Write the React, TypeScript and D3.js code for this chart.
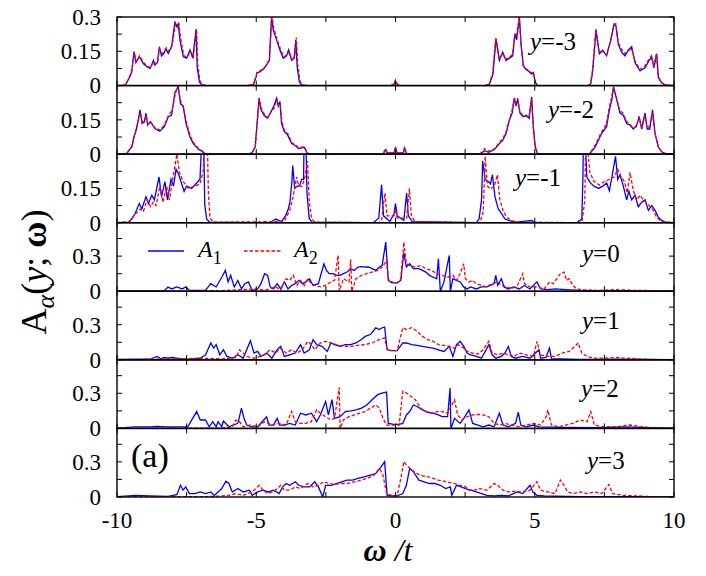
import React from "react";
import * as d3 from "d3";

type Pt = [number, number];

// spectral function A_alpha(y; omega): [omega/t, A]
const yRows = [-3, -2, -1, 0, 1, 2, 3];
const omegaTicks = [-10, -7.5, -5, -2.5, 0, 2.5, 5, 7.5, 10];
const omegaLabels = [-10, -5, 0, 5, 10];
const topTicks = [0, 0.075, 0.15, 0.225, 0.3];
const topTickLabels = [0, 0.15, 0.3];
const lowTicks = [0, 0.15, 0.3, 0.45];
const lowTickLabels = [0, 0.3];
const topMax = 0.3;
const lowMax = 0.585;

const a1Ym3: Pt[] = [
  [-10, 0], [-9.7, 0.002], [-9.62, 0.02], [-9.55, 0.035], [-9.47, 0.06], [-9.39, 0.149], [-9.32, 0.1], [-9.2, 0.126],
  [-9.05, 0.095], [-8.9, 0.08], [-8.81, 0.075], [-8.69, 0.11], [-8.64, 0.09], [-8.55, 0.1], [-8.48, 0.17], [-8.4, 0.13],
  [-8.32, 0.14], [-8.24, 0.16], [-8.16, 0.14], [-8.04, 0.17], [-7.92, 0.28], [-7.86, 0.26], [-7.8, 0.27], [-7.74, 0.2],
  [-7.62, 0.126], [-7.5, 0.12], [-7.38, 0.156], [-7.28, 0.12], [-7.16, 0.247], [-7.12, 0.08], [-7.04, 0.016], [-6.96, 0.003],
  [-6.8, 0], [-5.3, 0], [-5.1, 0.005], [-5.0, 0.04], [-4.98, 0.056], [-4.87, 0.06], [-4.72, 0.075], [-4.63, 0.09],
  [-4.53, 0.11], [-4.45, 0.3], [-4.39, 0.244], [-4.27, 0.2], [-4.15, 0.156], [-4.03, 0.12], [-3.91, 0.13], [-3.84, 0.156],
  [-3.73, 0.11], [-3.64, 0.12], [-3.58, 0.2], [-3.53, 0.08], [-3.45, 0.016], [-3.37, 0.002], [-3.2, 0],
  [-0.15, 0], [-0.05, 0.008], [0, 0.02], [0.05, 0.008], [0.15, 0],
  [3.2, 0], [3.37, 0.005], [3.5, 0.05], [3.61, 0.206], [3.73, 0.11], [3.85, 0.146], [3.97, 0.11], [4.09, 0.12],
  [4.21, 0.13], [4.29, 0.227], [4.35, 0.2], [4.45, 0.3], [4.51, 0.18], [4.59, 0.087], [4.68, 0.07], [4.77, 0.064],
  [4.89, 0.05], [4.95, 0.057], [5.02, 0.015], [5.1, 0], [6.9, 0], [7.0, 0.005], [7.08, 0.06], [7.2, 0.246],
  [7.32, 0.139], [7.44, 0.154], [7.58, 0.13], [7.73, 0.2], [7.85, 0.27], [7.92, 0.26], [8.0, 0.18], [8.12, 0.146],
  [8.24, 0.13], [8.36, 0.156], [8.48, 0.17], [8.6, 0.1], [8.7, 0.08], [8.78, 0.064], [8.96, 0.078], [9.11, 0.11],
  [9.2, 0.124], [9.28, 0.078], [9.38, 0.139], [9.44, 0.034], [9.56, 0.012], [9.68, 0.002], [10, 0],
];
const a2Ym3: Pt[] = [
  [-10, 0], [-9.7, 0.003], [-9.62, 0.022], [-9.55, 0.04], [-9.47, 0.065], [-9.38, 0.145], [-9.31, 0.105], [-9.19, 0.13],
  [-9.04, 0.1], [-8.9, 0.085], [-8.8, 0.078], [-8.68, 0.105], [-8.62, 0.095], [-8.54, 0.105], [-8.47, 0.16], [-8.39, 0.14],
  [-8.31, 0.15], [-8.23, 0.165], [-8.14, 0.15], [-8.02, 0.175], [-7.9, 0.27], [-7.84, 0.255], [-7.78, 0.275], [-7.72, 0.21],
  [-7.6, 0.13], [-7.48, 0.125], [-7.36, 0.15], [-7.26, 0.125], [-7.14, 0.24], [-7.1, 0.09], [-7.02, 0.02], [-6.94, 0.004],
  [-6.8, 0], [-5.3, 0], [-5.1, 0.006], [-5.0, 0.045], [-4.96, 0.06], [-4.85, 0.065], [-4.7, 0.08], [-4.61, 0.095],
  [-4.52, 0.12], [-4.44, 0.31], [-4.37, 0.25], [-4.25, 0.2], [-4.13, 0.16], [-4.01, 0.125], [-3.9, 0.135], [-3.82, 0.15],
  [-3.72, 0.115], [-3.62, 0.125], [-3.56, 0.21], [-3.51, 0.09], [-3.43, 0.02], [-3.35, 0.003], [-3.2, 0],
  [-0.15, 0], [-0.05, 0.01], [0, 0.025], [0.05, 0.01], [0.15, 0],
  [3.2, 0], [3.36, 0.006], [3.49, 0.055], [3.6, 0.21], [3.72, 0.115], [3.84, 0.14], [3.96, 0.115], [4.08, 0.125],
  [4.2, 0.135], [4.28, 0.22], [4.34, 0.21], [4.44, 0.3], [4.5, 0.19], [4.58, 0.09], [4.67, 0.075], [4.76, 0.068],
  [4.88, 0.055], [4.94, 0.06], [5.01, 0.018], [5.1, 0], [6.9, 0], [7.0, 0.006], [7.07, 0.065], [7.19, 0.24],
  [7.31, 0.145], [7.43, 0.15], [7.57, 0.135], [7.72, 0.19], [7.84, 0.265], [7.91, 0.27], [7.99, 0.19], [8.11, 0.16],
  [8.23, 0.14], [8.35, 0.15], [8.47, 0.165], [8.59, 0.11], [8.69, 0.09], [8.77, 0.07], [8.95, 0.085], [9.1, 0.115],
  [9.19, 0.13], [9.27, 0.085], [9.37, 0.14], [9.43, 0.04], [9.55, 0.014], [9.67, 0.003], [10, 0],
];

const a1Ym2: Pt[] = [
  [-10, 0], [-9.65, 0.002], [-9.55, 0.02], [-9.47, 0.03], [-9.39, 0.075], [-9.3, 0.11], [-9.17, 0.194], [-9.1, 0.134],
  [-9.02, 0.14], [-8.96, 0.179], [-8.9, 0.127], [-8.8, 0.142], [-8.64, 0.112], [-8.46, 0.1], [-8.3, 0.12], [-8.16, 0.164],
  [-8.04, 0.17], [-7.92, 0.27], [-7.8, 0.294], [-7.72, 0.22], [-7.62, 0.21], [-7.52, 0.134], [-7.38, 0.075], [-7.26, 0.046],
  [-7.07, 0.02], [-6.95, 0.013], [-6.84, 0.002], [-6.6, 0], [-5.3, 0], [-5.16, 0.005], [-5.04, 0.03], [-4.98, 0.12],
  [-4.9, 0.245], [-4.83, 0.194], [-4.72, 0.17], [-4.6, 0.157], [-4.49, 0.18], [-4.37, 0.21], [-4.27, 0.245], [-4.21, 0.21],
  [-4.15, 0.23], [-4.09, 0.134], [-4.0, 0.1], [-3.87, 0.083], [-3.73, 0.046], [-3.6, 0.038], [-3.48, 0.024], [-3.28, 0.03],
  [-3.16, 0.002], [-3.0, 0], [-0.45, 0], [-0.35, 0.02], [-0.3, 0.005], [-0.05, 0.005], [0, 0.03], [0.05, 0.005],
  [0.28, 0.005], [0.33, 0.025], [0.4, 0], [3.0, 0], [3.09, 0.005], [3.2, 0.015], [3.35, 0.008], [3.55, 0.02],
  [3.73, 0.046], [3.85, 0.06], [3.97, 0.09], [4.09, 0.15], [4.19, 0.18], [4.27, 0.245], [4.33, 0.21], [4.39, 0.24],
  [4.47, 0.18], [4.58, 0.164], [4.7, 0.17], [4.8, 0.157], [4.89, 0.25], [4.95, 0.12], [5.02, 0.03], [5.1, 0.002],
  [5.3, 0], [6.9, 0], [6.98, 0.003], [7.16, 0.03], [7.28, 0.06], [7.4, 0.09], [7.58, 0.12], [7.68, 0.194],
  [7.77, 0.24], [7.83, 0.294], [7.94, 0.24], [8.06, 0.18], [8.18, 0.17], [8.3, 0.134], [8.42, 0.127], [8.54, 0.11],
  [8.66, 0.127], [8.75, 0.164], [8.84, 0.11], [8.96, 0.18], [9.04, 0.11], [9.13, 0.11], [9.23, 0.194], [9.32, 0.09],
  [9.44, 0.03], [9.56, 0.01], [9.68, 0.002], [10, 0],
];
const a2Ym2: Pt[] = [
  [-10, 0], [-9.65, 0.003], [-9.55, 0.022], [-9.46, 0.035], [-9.38, 0.08], [-9.29, 0.12], [-9.16, 0.18], [-9.09, 0.14],
  [-9.01, 0.145], [-8.95, 0.17], [-8.89, 0.13], [-8.79, 0.14], [-8.63, 0.115], [-8.45, 0.105], [-8.29, 0.13], [-8.15, 0.17],
  [-8.03, 0.19], [-7.91, 0.26], [-7.82, 0.3], [-7.71, 0.23], [-7.61, 0.2], [-7.51, 0.14], [-7.37, 0.08], [-7.25, 0.05],
  [-7.06, 0.022], [-6.94, 0.015], [-6.83, 0.003], [-6.6, 0], [-5.3, 0], [-5.15, 0.006], [-5.03, 0.035], [-4.97, 0.13],
  [-4.89, 0.24], [-4.82, 0.2], [-4.71, 0.175], [-4.59, 0.16], [-4.48, 0.185], [-4.36, 0.2], [-4.26, 0.24], [-4.2, 0.215],
  [-4.14, 0.22], [-4.08, 0.14], [-3.99, 0.105], [-3.86, 0.088], [-3.72, 0.05], [-3.59, 0.04], [-3.47, 0.028], [-3.27, 0.032],
  [-3.15, 0.003], [-3.0, 0], [-0.45, 0], [-0.36, 0.025], [-0.3, 0.005], [-0.05, 0.005], [0, 0.032], [0.05, 0.005],
  [0.27, 0.005], [0.32, 0.028], [0.4, 0], [3.0, 0], [3.1, 0.008], [3.2, 0.025], [3.3, 0.012], [3.54, 0.022],
  [3.72, 0.05], [3.84, 0.065], [3.96, 0.095], [4.08, 0.145], [4.18, 0.19], [4.26, 0.24], [4.32, 0.22], [4.38, 0.245],
  [4.46, 0.19], [4.57, 0.17], [4.69, 0.165], [4.79, 0.16], [4.88, 0.24], [4.94, 0.125], [5.01, 0.035], [5.1, 0.003],
  [5.3, 0], [6.9, 0], [6.98, 0.004], [7.15, 0.035], [7.27, 0.065], [7.39, 0.095], [7.57, 0.13], [7.67, 0.2],
  [7.76, 0.25], [7.82, 0.29], [7.93, 0.25], [8.05, 0.19], [8.17, 0.18], [8.29, 0.145], [8.41, 0.13], [8.53, 0.115],
  [8.65, 0.12], [8.74, 0.16], [8.83, 0.115], [8.95, 0.17], [9.03, 0.115], [9.12, 0.12], [9.22, 0.185], [9.31, 0.095],
  [9.43, 0.035], [9.55, 0.012], [9.67, 0.003], [10, 0],
];

const a1Ym1: Pt[] = [
  [-10, 0], [-9.59, 0.002], [-9.47, 0.016], [-9.35, 0.04], [-9.2, 0.084], [-9.11, 0.06], [-8.96, 0.114], [-8.87, 0.084],
  [-8.75, 0.12], [-8.66, 0.1], [-8.49, 0.2], [-8.4, 0.114], [-8.28, 0.18], [-8.19, 0.1], [-8.06, 0.19], [-7.97, 0.16],
  [-7.88, 0.234], [-7.78, 0.21], [-7.67, 0.167], [-7.59, 0.137], [-7.5, 0.16], [-7.32, 0.15], [-7.14, 0.174], [-7.02, 0.19],
  [-6.98, 0.3], [-6.95, 0.6], [-6.9, 0.45], [-6.85, 0.08], [-6.78, 0.015], [-6.66, 0.002], [-4.5, 0], [-4.3, 0.016],
  [-4.1, 0.005], [-3.95, 0.03], [-3.85, 0.06], [-3.79, 0.09], [-3.72, 0.18], [-3.69, 0.25], [-3.62, 0.15], [-3.53, 0.16],
  [-3.45, 0.16], [-3.37, 0.19], [-3.3, 0.19], [-3.26, 0.6], [-3.22, 0.4], [-3.18, 0.13], [-3.1, 0.02], [-3.0, 0.003],
  [-0.8, 0], [-0.6, 0.02], [-0.5, 0.166], [-0.43, 0.03], [-0.2, 0.005], [-0.05, 0.04], [0, 0.084], [0.06, 0.03],
  [0.3, 0.01], [0.4, 0.13], [0.46, 0.03], [0.6, 0.005], [2.9, 0], [3.0, 0.016], [3.09, 0.1], [3.13, 0.27],
  [3.22, 0.19], [3.33, 0.18], [3.41, 0.17], [3.48, 0.21], [3.57, 0.114], [3.69, 0.06], [3.81, 0.04], [3.93, 0.016],
  [4.11, 0.008], [4.35, 0.002], [4.9, 0.01], [5.0, 0], [6.5, 0], [6.69, 0.016], [6.73, 0.2], [6.77, 0.6],
  [6.82, 0.35], [6.87, 0.2], [7.0, 0.174], [7.13, 0.16], [7.29, 0.15], [7.44, 0.16], [7.58, 0.174], [7.68, 0.14],
  [7.77, 0.2], [7.9, 0.29], [7.98, 0.19], [8.06, 0.21], [8.18, 0.16], [8.3, 0.1], [8.38, 0.137], [8.48, 0.1],
  [8.6, 0.12], [8.72, 0.07], [8.84, 0.09], [8.96, 0.1], [9.08, 0.054], [9.2, 0.075], [9.32, 0.054], [9.44, 0.024],
  [9.56, 0.01], [9.7, 0.002], [10, 0],
];
const a2Ym1: Pt[] = [
  [-10, 0], [-9.55, 0.005], [-9.4, 0.03], [-9.17, 0.06], [-9.05, 0.05], [-8.92, 0.1], [-8.8, 0.07], [-8.7, 0.09],
  [-8.6, 0.075], [-8.46, 0.16], [-8.35, 0.09], [-8.22, 0.16], [-8.12, 0.1], [-8.0, 0.19], [-7.85, 0.3], [-7.76, 0.22],
  [-7.62, 0.18], [-7.44, 0.15], [-7.2, 0.16], [-7.02, 0.17], [-6.9, 0.23], [-6.83, 0.6], [-6.77, 0.45], [-6.72, 0.13],
  [-6.66, 0.02], [-6.55, 0.002], [-4.0, 0.005], [-3.8, 0.054], [-3.68, 0.11], [-3.55, 0.2], [-3.48, 0.16], [-3.35, 0.16],
  [-3.25, 0.2], [-3.16, 0.27], [-3.1, 0.1], [-3.02, 0.02], [-2.9, 0.002], [-0.6, 0], [-0.5, 0.01], [-0.38, 0.13],
  [-0.3, 0.03], [-0.05, 0.03], [0, 0.06], [0.06, 0.02], [0.4, 0.02], [0.5, 0.15], [0.57, 0.03], [0.7, 0.005],
  [3.0, 0], [3.05, 0.005], [3.15, 0.05], [3.22, 0.29], [3.3, 0.16], [3.42, 0.147], [3.55, 0.16], [3.66, 0.21],
  [3.75, 0.1], [3.86, 0.054], [3.98, 0.025], [4.15, 0.01], [4.35, 0.003], [6.6, 0], [6.7, 0.005], [6.8, 0.1],
  [6.85, 0.6], [6.92, 0.3], [6.98, 0.22], [7.13, 0.18], [7.32, 0.165], [7.5, 0.18], [7.68, 0.19], [7.85, 0.2],
  [7.98, 0.234], [8.1, 0.2], [8.22, 0.18], [8.32, 0.13], [8.42, 0.22], [8.54, 0.14], [8.66, 0.1], [8.78, 0.12],
  [8.9, 0.1], [9.02, 0.084], [9.14, 0.07], [9.26, 0.054], [9.38, 0.024], [9.5, 0.01], [9.62, 0.002], [10, 0],
];

const a1Y0: Pt[] = [
  [-10, 0.003], [-8.3, 0.005], [-8.17, 0.037], [-8.04, 0.02], [-7.85, 0.037], [-7.66, 0.02], [-7.53, 0.037], [-7.4, 0.008],
  [-6.82, 0.01], [-6.63, 0.065], [-6.44, 0.037], [-6.24, 0.12], [-6.11, 0.178], [-6.01, 0.08], [-5.92, 0.136], [-5.79, 0.037],
  [-5.66, 0.093], [-5.53, 0.02], [-5.41, 0.065], [-5.28, 0.08], [-5.15, 0.008], [-4.95, 0.02], [-4.83, 0.065], [-4.7, 0.15],
  [-4.59, 0.136], [-4.5, 0.037], [-4.38, 0.02], [-4.25, 0.065], [-4.12, 0.02], [-3.99, 0.08], [-3.86, 0.02], [-3.73, 0.05],
  [-3.6, 0.065], [-3.47, 0.093], [-3.35, 0.065], [-3.22, 0.08], [-3.09, 0.107], [-2.96, 0.05], [-2.77, 0.065], [-2.57, 0.235],
  [-2.48, 0.178], [-2.38, 0.15], [-2.25, 0.15], [-2.12, 0.136], [-1.99, 0.136], [-1.87, 0.15], [-1.74, 0.164], [-1.61, 0.193],
  [-1.48, 0.178], [-1.35, 0.207], [-1.22, 0.21], [-1.09, 0.207], [-0.97, 0.207], [-0.84, 0.193], [-0.71, 0.178], [-0.58, 0.207],
  [-0.48, 0.22], [-0.35, 0.42], [-0.26, 0.093], [-0.13, 0.071], [0.06, 0.071], [0.19, 0.093], [0.3, 0.33], [0.39, 0.207],
  [0.51, 0.235], [0.64, 0.193], [0.84, 0.193], [0.97, 0.178], [1.09, 0.164], [1.22, 0.136], [1.35, 0.12], [1.48, 0.107],
  [1.54, 0.277], [1.61, 0.0], [1.74, 0.08], [1.93, 0.306], [1.97, 0.0], [2.06, 0.107], [2.19, 0.093], [2.32, 0.08],
  [2.45, 0.037], [2.57, 0.02], [2.7, 0.037], [2.9, 0.02], [3.09, 0.037], [3.28, 0.037], [3.41, 0.05], [3.54, 0.065],
  [3.6, 0.136], [3.67, 0.05], [3.8, 0.107], [3.9, 0.037], [4.05, 0.02], [4.25, 0.037], [4.44, 0.02], [4.63, 0.05],
  [4.83, 0.02], [5.08, 0.08], [5.21, 0.02], [5.47, 0.014], [5.73, 0.02], [6.11, 0.014], [6.63, 0.008], [7.91, 0.006],
  [10, 0.003],
];
const a2Y0: Pt[] = [
  [-10, 0.003], [-6.24, 0.005], [-5.6, 0.014], [-4.95, 0.02], [-4.7, 0.008], [-4.31, 0.037], [-4.12, 0.014], [-3.93, 0.107],
  [-3.8, 0.093], [-3.67, 0.136], [-3.54, 0.05], [-3.41, 0.093], [-3.28, 0.05], [-3.15, 0.107], [-3.02, 0.065], [-2.9, 0.05],
  [-2.7, 0.037], [-2.51, 0.05], [-2.32, 0.08], [-2.19, 0.093], [-2.06, 0.306], [-2.02, 0.0], [-1.87, 0.107], [-1.67, 0.08],
  [-1.61, 0.27], [-1.57, 0.0], [-1.42, 0.107], [-1.22, 0.136], [-1.03, 0.15], [-0.84, 0.164], [-0.64, 0.178], [-0.48, 0.207],
  [-0.39, 0.235], [-0.32, 0.264], [-0.26, 0.107], [-0.13, 0.08], [0.06, 0.071], [0.19, 0.107], [0.3, 0.42], [0.39, 0.235],
  [0.51, 0.22], [0.71, 0.207], [0.9, 0.22], [1.09, 0.193], [1.29, 0.178], [1.48, 0.15], [1.67, 0.136], [1.87, 0.12],
  [2.06, 0.136], [2.19, 0.093], [2.32, 0.15], [2.45, 0.235], [2.51, 0.107], [2.64, 0.08], [2.77, 0.093], [2.9, 0.065],
  [3.09, 0.05], [3.28, 0.037], [3.47, 0.065], [3.67, 0.08], [3.8, 0.05], [3.99, 0.037], [4.18, 0.02], [4.38, 0.05],
  [4.57, 0.15], [4.63, 0.065], [4.83, 0.037], [5.08, 0.037], [5.34, 0.02], [5.53, 0.08], [5.66, 0.065], [5.79, 0.107],
  [5.92, 0.15], [6.05, 0.164], [6.14, 0.093], [6.24, 0.107], [6.37, 0.05], [6.5, 0.02], [6.76, 0.014], [7.27, 0.008],
  [7.91, 0.014], [8.56, 0.008], [9.2, 0.006], [10, 0.003],
];

const a1Y1: Pt[] = [
  [-10, 0.003], [-8.82, 0.005], [-8.56, 0.029], [-8.43, 0.009], [-8.3, 0.02], [-8.17, 0.014], [-8.04, 0.02], [-7.85, 0.014],
  [-7.53, 0.003], [-7.01, 0.014], [-6.82, 0.043], [-6.63, 0.144], [-6.53, 0.1], [-6.44, 0.13], [-6.31, 0.043], [-6.18, 0.086],
  [-6.05, 0.029], [-5.86, 0.014], [-5.66, 0.043], [-5.47, 0.014], [-5.21, 0.164], [-5.08, 0.058], [-4.95, 0.072], [-4.83, 0.029],
  [-4.63, 0.058], [-4.44, 0.014], [-4.25, 0.086], [-4.12, 0.115], [-3.99, 0.029], [-3.8, 0.043], [-3.6, 0.058], [-3.41, 0.13],
  [-3.28, 0.058], [-3.09, 0.086], [-2.96, 0.173], [-2.83, 0.13], [-2.64, 0.115], [-2.45, 0.072], [-2.32, 0.144], [-2.19, 0.13],
  [-1.99, 0.115], [-1.8, 0.13], [-1.61, 0.13], [-1.42, 0.144], [-1.22, 0.173], [-1.09, 0.2], [-0.9, 0.216], [-0.71, 0.274],
  [-0.58, 0.259], [-0.48, 0.274], [-0.39, 0.28], [-0.3, 0.086], [-0.13, 0.078], [0.06, 0.078], [0.26, 0.144], [0.39, 0.144],
  [0.58, 0.13], [0.77, 0.124], [0.97, 0.115], [1.16, 0.107], [1.35, 0.1], [1.54, 0.086], [1.74, 0.072], [1.93, 0.115],
  [2.06, 0.029], [2.19, 0.13], [2.32, 0.158], [2.45, 0.115], [2.57, 0.058], [2.7, 0.043], [2.9, 0.029], [3.09, 0.014],
  [3.35, 0.13], [3.47, 0.043], [3.6, 0.014], [3.8, 0.029], [3.93, 0.058], [4.05, 0.115], [4.16, 0.029], [4.31, 0.014],
  [4.57, 0.029], [4.83, 0.014], [5.15, 0.086], [5.21, 0.014], [5.4, 0.02], [5.53, 0.1], [5.6, 0.01], [6.63, 0.003],
  [7.91, 0.006], [10, 0.002],
];
const a2Y1: Pt[] = [
  [-10, 0.002], [-7.79, 0.009], [-7.01, 0.014], [-6.24, 0.009], [-5.73, 0.02], [-5.6, 0.086], [-5.47, 0.058], [-5.34, 0.029],
  [-5.08, 0.014], [-4.7, 0.043], [-4.5, 0.086], [-4.31, 0.058], [-4.12, 0.1], [-3.93, 0.058], [-3.73, 0.086], [-3.54, 0.058],
  [-3.35, 0.086], [-3.15, 0.158], [-3.02, 0.13], [-2.9, 0.086], [-2.7, 0.144], [-2.51, 0.158], [-2.32, 0.144], [-2.12, 0.13],
  [-1.87, 0.115], [-1.61, 0.115], [-1.35, 0.124], [-1.09, 0.13], [-0.84, 0.144], [-0.58, 0.173], [-0.39, 0.187], [-0.3, 0.086],
  [-0.13, 0.078], [0.06, 0.078], [0.26, 0.274], [0.39, 0.259], [0.58, 0.274], [0.77, 0.245], [0.97, 0.2], [1.16, 0.173],
  [1.35, 0.158], [1.54, 0.13], [1.74, 0.124], [1.93, 0.115], [2.12, 0.1], [2.25, 0.13], [2.45, 0.1], [2.57, 0.072],
  [2.77, 0.058], [2.96, 0.049], [3.15, 0.086], [3.35, 0.158], [3.47, 0.058], [3.67, 0.043], [3.86, 0.058], [4.05, 0.043],
  [4.25, 0.029], [4.44, 0.058], [4.7, 0.043], [4.95, 0.029], [5.08, 0.158], [5.21, 0.043], [5.47, 0.029], [5.73, 0.029],
  [5.98, 0.058], [6.24, 0.072], [6.44, 0.115], [6.56, 0.144], [6.69, 0.058], [6.88, 0.029], [7.14, 0.014], [7.53, 0.014],
  [7.91, 0.02], [8.3, 0.014], [8.69, 0.009], [9.2, 0.003], [10, 0.002],
];

const a1Y2: Pt[] = [
  [-10, 0.003], [-9.33, 0.014], [-8.82, 0.014], [-8.56, 0.017], [-8.24, 0.014], [-7.46, 0.014], [-7.14, 0.144], [-7.01, 0.072],
  [-6.82, 0.072], [-6.69, 0.014], [-6.56, 0.058], [-6.44, 0.014], [-6.37, 0.058], [-6.24, 0.014], [-6.18, 0.063], [-5.98, 0.014],
  [-5.66, 0.043], [-5.53, 0.173], [-5.44, 0.086], [-5.34, 0.029], [-5.15, 0.014], [-4.95, 0.014], [-4.63, 0.1], [-4.54, 0.029],
  [-4.38, 0.029], [-4.25, 0.086], [-4.16, 0.029], [-3.99, 0.029], [-3.8, 0.043], [-3.6, 0.029], [-3.41, 0.13], [-3.22, 0.115],
  [-3.02, 0.13], [-2.83, 0.058], [-2.7, 0.115], [-2.51, 0.23], [-2.41, 0.115], [-2.28, 0.245], [-2.19, 0.086], [-1.99, 0.1],
  [-1.8, 0.144], [-1.61, 0.15], [-1.42, 0.158], [-1.22, 0.173], [-1.03, 0.2], [-0.84, 0.245], [-0.64, 0.288], [-0.48, 0.302],
  [-0.32, 0.31], [-0.26, 0.043], [-0.06, 0.035], [0.13, 0.035], [0.26, 0.043], [0.39, 0.115], [0.51, 0.144], [0.64, 0.2],
  [0.77, 0.187], [0.97, 0.158], [1.16, 0.138], [1.35, 0.13], [1.54, 0.115], [1.67, 0.1], [1.87, 0.1], [1.96, 0.345],
  [1.99, 0.0], [2.12, 0.086], [2.32, 0.043], [2.45, 0.086], [2.64, 0.158], [2.77, 0.043], [2.96, 0.029], [3.15, 0.014],
  [3.35, 0.029], [3.54, 0.014], [3.73, 0.13], [3.86, 0.029], [4.05, 0.014], [4.31, 0.043], [4.41, 0.138], [4.5, 0.029],
  [4.7, 0.014], [4.95, 0.029], [5.15, 0.014], [5.98, 0.009], [7.27, 0.006], [8.17, 0.014], [9.2, 0.006], [10, 0.003],
];
const a2Y2: Pt[] = [
  [-10, 0.002], [-6.24, 0.003], [-5.86, 0.014], [-5.73, 0.072], [-5.6, 0.058], [-5.47, 0.014], [-5.21, 0.029], [-4.95, 0.014],
  [-4.7, 0.058], [-4.44, 0.029], [-4.18, 0.043], [-3.93, 0.029], [-3.73, 0.144], [-3.6, 0.058], [-3.41, 0.043], [-3.22, 0.043],
  [-3.02, 0.058], [-2.83, 0.158], [-2.7, 0.13], [-2.51, 0.1], [-2.32, 0.072], [-2.19, 0.086], [-2.02, 0.35], [-1.99, 0.0],
  [-1.87, 0.072], [-1.67, 0.1], [-1.48, 0.115], [-1.29, 0.13], [-1.09, 0.144], [-0.9, 0.173], [-0.71, 0.2], [-0.58, 0.173],
  [-0.45, 0.086], [-0.32, 0.029], [-0.06, 0.029], [0.13, 0.029], [0.26, 0.317], [0.39, 0.302], [0.55, 0.274], [0.71, 0.245],
  [0.9, 0.173], [1.09, 0.144], [1.29, 0.13], [1.48, 0.144], [1.67, 0.144], [1.87, 0.13], [2.12, 0.245], [2.23, 0.115],
  [2.38, 0.072], [2.57, 0.1], [2.77, 0.115], [2.96, 0.12], [3.15, 0.115], [3.35, 0.1], [3.54, 0.043], [3.73, 0.029],
  [3.93, 0.043], [4.18, 0.029], [4.44, 0.014], [4.7, 0.029], [4.95, 0.043], [5.21, 0.029], [5.41, 0.1], [5.47, 0.158],
  [5.6, 0.029], [5.86, 0.014], [6.11, 0.029], [6.37, 0.043], [6.63, 0.072], [6.88, 0.058], [7.01, 0.144], [7.14, 0.029],
  [7.4, 0.014], [7.91, 0.014], [8.43, 0.029], [8.82, 0.014], [9.2, 0.006], [10, 0.002],
];

const a1Y3: Pt[] = [
  [-10, 0.003], [-9.59, 0.009], [-9.33, 0.014], [-8.82, 0.009], [-8.17, 0.006], [-7.85, 0.02], [-7.72, 0.1], [-7.63, 0.058],
  [-7.53, 0.086], [-7.4, 0.029], [-7.21, 0.029], [-7.01, 0.043], [-6.82, 0.029], [-6.63, 0.043], [-6.5, 0.014], [-6.24, 0.072],
  [-6.09, 0.135], [-5.98, 0.115], [-5.86, 0.043], [-5.66, 0.072], [-5.47, 0.043], [-5.24, 0.058], [-5.15, 0.014], [-4.95, 0.043],
  [-4.76, 0.058], [-4.57, 0.043], [-4.38, 0.058], [-4.18, 0.029], [-4.05, 0.086], [-3.93, 0.115], [-3.8, 0.1], [-3.6, 0.13],
  [-3.47, 0.1], [-3.28, 0.086], [-3.09, 0.086], [-2.9, 0.13], [-2.77, 0.086], [-2.61, 0.0], [-2.51, 0.1], [-2.32, 0.1],
  [-2.12, 0.115], [-1.93, 0.13], [-1.74, 0.144], [-1.54, 0.144], [-1.35, 0.158], [-1.09, 0.173], [-0.9, 0.187], [-0.71, 0.2],
  [-0.51, 0.259], [-0.39, 0.302], [-0.3, 0.014], [-0.13, 0.009], [0.06, 0.009], [0.26, 0.029], [0.39, 0.1], [0.51, 0.245],
  [0.64, 0.216], [0.84, 0.144], [1.03, 0.13], [1.22, 0.115], [1.42, 0.115], [1.61, 0.1], [1.8, 0.072], [1.97, 0.086],
  [2.02, 0.014], [2.19, 0.1], [2.36, 0.086], [2.51, 0.072], [2.7, 0.058], [2.9, 0.043], [3.09, 0.029], [3.28, 0.014],
  [3.54, 0.009], [3.8, 0.014], [4.05, 0.009], [4.38, 0.043], [4.57, 0.029], [4.83, 0.1], [4.93, 0.043], [5.08, 0.014],
  [5.34, 0.009], [6.63, 0.003], [10, 0.002],
];
const a2Y3: Pt[] = [
  [-10, 0.002], [-6.89, 0.003], [-6.24, 0.009], [-5.98, 0.014], [-5.73, 0.029], [-5.47, 0.014], [-5.15, 0.043], [-4.89, 0.1],
  [-4.76, 0.058], [-4.57, 0.029], [-4.31, 0.058], [-4.12, 0.1], [-3.99, 0.058], [-3.8, 0.058], [-3.6, 0.086], [-3.41, 0.072],
  [-3.15, 0.115], [-2.96, 0.086], [-2.77, 0.1], [-2.57, 0.13], [-2.38, 0.115], [-2.19, 0.107], [-1.99, 0.115], [-1.74, 0.115],
  [-1.48, 0.13], [-1.22, 0.144], [-0.97, 0.164], [-0.77, 0.187], [-0.58, 0.245], [-0.45, 0.187], [-0.32, 0.029], [-0.13, 0.014],
  [0.06, 0.014], [0.19, 0.158], [0.3, 0.302], [0.39, 0.274], [0.58, 0.23], [0.77, 0.2], [0.97, 0.18], [1.16, 0.173],
  [1.35, 0.158], [1.54, 0.144], [1.74, 0.135], [1.93, 0.124], [2.12, 0.115], [2.32, 0.1], [2.51, 0.086], [2.64, 0.058],
  [2.83, 0.058], [3.02, 0.072], [3.28, 0.058], [3.54, 0.115], [3.67, 0.1], [3.86, 0.058], [4.05, 0.043], [4.31, 0.049],
  [4.57, 0.043], [4.83, 0.058], [5.08, 0.13], [5.21, 0.058], [5.47, 0.043], [5.73, 0.029], [5.92, 0.144], [6.05, 0.1],
  [6.18, 0.043], [6.37, 0.029], [6.63, 0.043], [6.88, 0.029], [7.14, 0.043], [7.4, 0.029], [7.66, 0.107], [7.79, 0.029],
  [8.17, 0.014], [8.69, 0.009], [9.2, 0.003], [10, 0.002],
];

const blueSeries = [a1Ym3, a1Ym2, a1Ym1, a1Y0, a1Y1, a1Y2, a1Y3];
const redSeries = [a2Ym3, a2Ym2, a2Ym1, a2Y0, a2Y1, a2Y2, a2Y3];

// where the "y=n" tag sits in each panel: [x, baseline]
const tagPos = [
  [530, 50], [548, 118], [515, 186], [582, 262], [582, 329], [581, 397], [587, 469],
];

const W = 706;
const H = 576;
const LEFT = 117;
const RIGHT = 674;
const TOP = 17;
const BOTTOM = 497;
const PH = (BOTTOM - TOP) / 7;
const FONT = "'Liberation Serif', 'Times New Roman', Times, 'DejaVu Serif', serif";

const x = d3.scaleLinear().domain([-10, 10]).range([LEFT, RIGHT]);

const Panel = ({ i }: { i: number }) => {
  const top = TOP + i * PH;
  const bottom = top + PH;
  const upper = i < 3;
  const y = d3
    .scaleLinear()
    .domain([0, upper ? topMax : lowMax])
    .range([bottom, top]);
  const ticks = upper ? topTicks : lowTicks;
  const labels = upper
    ? topTickLabels.filter((v) => i === 0 || v < topMax)
    : lowTickLabels;
  const line = d3
    .line<Pt>()
    .x((d) => x(d[0]))
    .y((d) => y(d[1]));
  const clipId = `clip${i}`;
  const [tx, ty] = tagPos[i];

  return (
    <g>
      <defs>
        <clipPath id={clipId}>
          <rect x={LEFT} y={top} width={RIGHT - LEFT} height={PH} />
        </clipPath>
      </defs>
      <g clipPath={`url(#${clipId})`}>
        <path d={line(blueSeries[i]) || ""} fill="none" stroke="#0000ff" strokeWidth={1.3} />
        <path
          d={line(redSeries[i]) || ""}
          fill="none"
          stroke="#ff0000"
          strokeWidth={1.3}
          strokeDasharray="3.5,2"
        />
      </g>
      {/* y ticks, left and right, inward */}
      {ticks.map((v) => (
        <g key={v}>
          <line x1={LEFT} x2={LEFT + 5} y1={y(v)} y2={y(v)} stroke="#000" strokeWidth={1} />
          <line x1={RIGHT} x2={RIGHT - 5} y1={y(v)} y2={y(v)} stroke="#000" strokeWidth={1} />
        </g>
      ))}
      {/* x ticks on top and bottom edge of each panel */}
      {omegaTicks.map((w) => (
        <g key={w}>
          <line x1={x(w)} x2={x(w)} y1={top} y2={top + 5} stroke="#000" strokeWidth={1} />
          <line x1={x(w)} x2={x(w)} y1={bottom} y2={bottom - 5} stroke="#000" strokeWidth={1} />
        </g>
      ))}
      {labels.map((v) => (
        <text
          key={v}
          x={101}
          y={y(v)}
          dy="0.34em"
          textAnchor="end"
          fontSize={23}
          fontFamily={FONT}
        >
          {String(v)}
        </text>
      ))}
      <rect
        x={LEFT}
        y={top}
        width={RIGHT - LEFT}
        height={PH}
        fill="none"
        stroke="#000"
        strokeWidth={1.4}
      />
      <text x={tx} y={ty} fontSize={25} fontFamily={FONT}>
        <tspan fontStyle="italic">y</tspan>={yRows[i]}
      </text>
    </g>
  );
};

const App = () => {
  const legendY = 251;
  return (
    <svg
      width={W}
      height={H}
      viewBox={`0 0 ${W} ${H}`}
      style={{ position: "absolute", left: 0, top: 0, background: "#fff" }}
    >
      <rect x={0} y={0} width={W} height={H} fill="#fff" />
      {yRows.map((_, i) => (
        <Panel key={i} i={i} />
      ))}

      {omegaLabels.map((w) => (
        <text
          key={w}
          x={x(w)}
          y={528}
          textAnchor="middle"
          fontSize={23}
          fontFamily={FONT}
        >
          {String(w)}
        </text>
      ))}

      {/* legend */}
      <line x1={148} x2={184} y1={legendY} y2={legendY} stroke="#0000ff" strokeWidth={1.3} />
      <text x={198} y={257} fontSize={24} fontFamily={FONT}>
        <tspan fontStyle="italic">A</tspan>
        <tspan fontSize={18} dy={7}>1</tspan>
      </text>
      <line
        x1={244}
        x2={282}
        y1={legendY}
        y2={legendY}
        stroke="#ff0000"
        strokeWidth={1.3}
        strokeDasharray="3.5,2"
      />
      <text x={294} y={257} fontSize={24} fontFamily={FONT}>
        <tspan fontStyle="italic">A</tspan>
        <tspan fontSize={18} dy={7}>2</tspan>
      </text>

      <text x={131} y={467} fontSize={34} fontFamily={FONT}>
        (a)
      </text>

      {/* axis titles */}
      <text
        transform="translate(46,272) rotate(-90)"
        textAnchor="middle"
        fontSize={36}
        fontFamily={FONT}
      >
        A
        <tspan fontStyle="italic" fontSize={26} dy={8}>α</tspan>
        <tspan dy={-8}>(</tspan>
        <tspan fontStyle="italic">y</tspan>
        <tspan>; </tspan>
        <tspan fontWeight="bold">ω</tspan>
        <tspan>)</tspan>
      </text>
      <text x={388} y={561} textAnchor="middle" fontSize={32} fontFamily={FONT}>
        <tspan fontWeight="bold" fontStyle="italic">ω</tspan>
        <tspan fontStyle="italic"> /t</tspan>
      </text>
    </svg>
  );
};

export default App;
